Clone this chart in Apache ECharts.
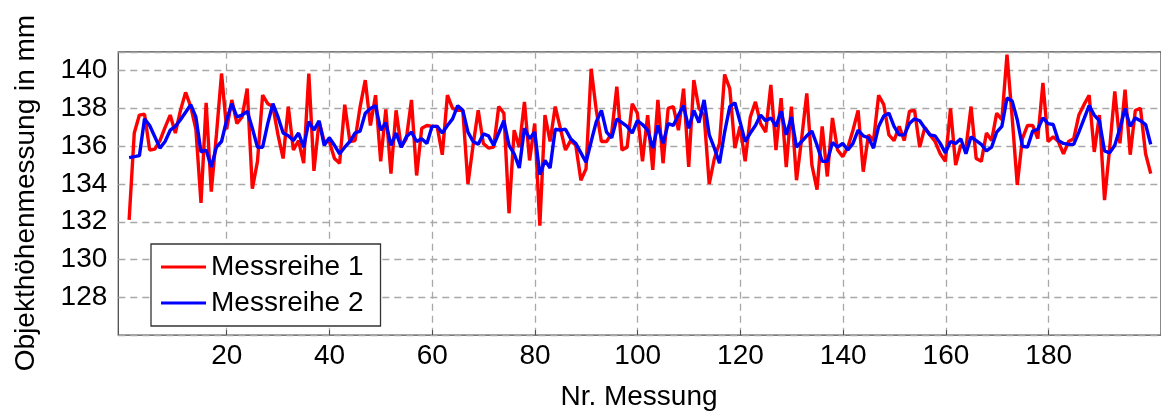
<!DOCTYPE html>
<html>
<head>
<meta charset="utf-8">
<title>Objekthöhenmessung</title>
<script src="https://cdn.jsdelivr.net/npm/echarts@6/dist/echarts.min.js"></script>
<style>
  html, body { margin: 0; padding: 0; background: #fff; }
  #chart { width: 1161px; height: 414px; }
</style>
</head>
<body>
<div id="chart"></div>
<script>
// Messreihe 1 (rot), Messung Nr. 1 … 200, Werte in mm
const messreihe1 = [
  132.1, 136.7, 137.65, 137.7, 135.8, 135.85, 136.3, 137.0, 137.65, 136.7,
  137.9, 138.85, 138.1, 136.9, 133.0, 138.3, 133.6, 136.6, 139.85, 136.9,
  138.45, 137.2, 137.55, 139.05, 133.75, 135.2, 138.7, 138.25, 138.1, 136.6,
  135.35, 138.1, 135.8, 136.3, 135.1, 139.85, 134.7, 137.3, 136.25, 136.25,
  135.35, 135.1, 138.2, 136.25, 136.3, 138.1, 139.5, 137.1, 138.7, 135.2,
  137.95, 134.55, 137.9, 135.95, 136.4, 138.45, 134.45, 136.95, 137.1, 137.05,
  137.05, 135.55, 138.7, 138.0, 137.9, 137.9, 134.0, 136.05, 137.9, 136.15,
  135.9, 135.95, 138.1, 137.75, 132.45, 136.85, 135.95, 138.35, 135.25, 137.2,
  131.8, 137.65, 136.25, 138.1, 136.95, 135.8, 136.3, 136.05, 134.2, 134.8,
  140.1, 137.9, 136.25, 136.25, 136.7, 139.15, 135.8, 135.95, 138.25, 137.75,
  135.2, 137.65, 134.75, 138.45, 135.1, 138.0, 138.1, 136.85, 139.05, 134.9,
  139.5, 138.0, 137.65, 134.0, 135.35, 136.15, 139.8, 139.05, 135.9, 137.05,
  135.2, 137.55, 138.35, 137.2, 136.75, 139.25, 135.8, 138.55, 134.9, 138.1,
  134.2, 136.4, 138.8, 135.0, 133.7, 137.05, 134.4, 137.5, 135.8, 135.45,
  135.95, 136.85, 137.9, 134.65, 136.6, 136.3, 138.7, 138.2, 136.6, 136.3,
  137.05, 136.3, 137.85, 137.9, 135.95, 137.0, 136.6, 136.25, 135.6, 135.2,
  138.0, 135.0, 136.05, 135.9, 138.1, 135.35, 135.2, 136.7, 136.3, 137.75,
  137.4, 140.85, 137.55, 133.95, 136.4, 137.1, 137.1, 136.4, 139.35, 136.25,
  136.5, 136.25, 135.6, 136.25, 136.4, 137.65, 138.2, 138.7, 135.7, 137.65,
  133.15, 135.9, 138.9, 136.15, 139.0, 135.55, 137.9, 138.0, 135.6, 134.55
];

// Messreihe 2 (blau), Messung Nr. 1 … 200, Werte in mm
const messreihe2 = [
  135.4, 135.45, 135.5, 137.45, 137.1, 136.5, 135.9, 136.25, 136.85, 137.05,
  137.4, 137.8, 138.2, 137.55, 135.7, 135.8, 134.9, 135.95, 136.25, 137.4,
  138.25, 137.55, 137.65, 137.85, 136.95, 135.95, 135.95, 137.2, 138.25, 137.55,
  136.7, 136.55, 136.3, 136.7, 135.95, 137.3, 136.85, 137.35, 136.05, 136.45,
  136.05, 135.6, 135.95, 136.25, 136.7, 136.8, 137.75, 138.0, 138.15, 136.85,
  137.25, 136.05, 136.7, 135.95, 136.5, 136.75, 136.25, 136.4, 136.15, 137.05,
  137.05, 136.7, 137.1, 137.45, 138.15, 137.9, 136.75, 136.25, 136.1, 136.65,
  136.55, 136.05, 136.7, 137.35, 136.05, 135.6, 134.85, 136.95, 136.4, 136.75,
  134.5, 135.25, 134.85, 136.9, 136.85, 136.9, 136.4, 136.15, 135.65, 135.15,
  136.25, 137.3, 137.9, 136.75, 136.45, 137.45, 137.25, 137.05, 136.7, 137.35,
  137.15, 136.85, 135.9, 137.1, 136.15, 137.2, 137.1, 137.65, 138.15, 136.95,
  137.9, 137.25, 138.45, 136.6, 135.9, 135.1, 136.75, 138.1, 138.3, 137.3,
  136.25, 136.7, 137.1, 137.65, 137.35, 137.5, 137.05, 137.85, 136.6, 137.55,
  135.95, 136.25, 136.55, 136.8, 136.05, 135.2, 135.2, 136.2, 135.95, 136.15,
  135.8, 136.15, 136.85, 136.55, 136.45, 135.9, 137.05, 137.6, 137.75, 137.05,
  136.6, 136.6, 137.2, 137.45, 137.35, 136.95, 136.6, 136.55, 136.15, 135.65,
  136.25, 136.15, 136.4, 135.6, 136.5, 136.3, 136.1, 135.75, 135.95, 136.75,
  137.05, 138.55, 138.4, 137.4, 136.0, 135.95, 136.8, 136.9, 137.5, 137.2,
  137.15, 136.3, 136.15, 136.1, 136.1, 136.75, 137.45, 138.15, 137.65, 137.35,
  135.75, 135.65, 136.05, 136.95, 138.0, 137.05, 137.5, 137.35, 137.15, 136.1
];

const seriesNames = ['Messreihe 1', 'Messreihe 2'];
const xTitle = 'Nr. Messung';
const yTitle = 'Objekthöhenmessung in mm';
const yTickLabels = [128, 130, 132, 134, 136, 138, 140];

const FONT = '"Liberation Sans", Helvetica, Arial, sans-serif';
const GRID_COLOR = '#a8a8a8';
const FRAME_COLOR = '#4d4d4d';

// pair each value with its measurement number (1-based)
const toPoints = arr => arr.map((v, i) => [i + 1, v]);

const chart = echarts.init(document.getElementById('chart'), null, { renderer: 'canvas' });

chart.setOption({
  animation: false,
  backgroundColor: '#fff',
  textStyle: { fontFamily: FONT },
  grid: [
    // plot frame holding the data
    { left: 118.3, top: 51.8, width: 1043.5, height: 283.3,
      show: true, borderColor: FRAME_COLOR, borderWidth: 1.3, backgroundColor: 'transparent',
      containLabel: false },
    // helper grid carrying the x ticks 20 … 180
    { left: 226.7, top: 51.8, width: 822, height: 283.3, containLabel: false }
  ],
  xAxis: [
    { gridIndex: 0, type: 'value', min: -1.11, max: 202, show: false },
    { gridIndex: 1, type: 'value', min: 20, max: 180, interval: 20,
      axisLine: { show: false },
      axisTick: { show: true, inside: true, length: 5, lineStyle: { color: FRAME_COLOR, width: 1 } },
      axisLabel: { fontSize: 28, color: '#000', fontFamily: FONT, margin: 7 },
      splitLine: { show: true, lineStyle: { color: GRID_COLOR, width: 1.3, type: [7, 5] } } }
  ],
  yAxis: [
    { gridIndex: 0, type: 'value', min: 126, max: 141, interval: 2,
      axisLine: { show: false },
      axisTick: { show: false },
      axisLabel: { fontSize: 28, color: '#000', fontFamily: FONT, margin: 11,
        formatter: v => (yTickLabels.indexOf(v) >= 0 ? String(v) : '') },
      splitLine: { show: true, lineStyle: { color: GRID_COLOR, width: 1.3, type: [7, 5] } } },
    { gridIndex: 1, type: 'value', min: 0, max: 1, show: false }
  ],
  legend: {
    orient: 'vertical',
    left: 151, top: 244,
    padding: [9, 17, 9, 10],
    itemGap: 8,
    itemWidth: 45, itemHeight: 3,
    icon: 'rect',
    backgroundColor: '#fff',
    borderColor: '#333',
    borderWidth: 1.3,
    borderRadius: 0,
    selectedMode: false,
    textStyle: { fontSize: 28, color: '#000', fontFamily: FONT, lineHeight: 28 },
    data: seriesNames
  },
  series: [
    { name: seriesNames[0], type: 'line', xAxisIndex: 0, yAxisIndex: 0,
      data: toPoints(messreihe1), showSymbol: false, symbol: 'none',
      lineStyle: { color: '#ff0000', width: 3.4 }, itemStyle: { color: '#ff0000' },
      z: 3 },
    { name: seriesNames[1], type: 'line', xAxisIndex: 0, yAxisIndex: 0,
      data: toPoints(messreihe2), showSymbol: false, symbol: 'none',
      lineStyle: { color: '#0000ff', width: 3.4 }, itemStyle: { color: '#0000ff' },
      z: 4 }
  ],
  graphic: [
    { type: 'text', x: 639, y: 397,
      style: { text: xTitle, font: '28px ' + FONT, fill: '#000', align: 'center', verticalAlign: 'middle' } },
    { type: 'text', x: 26, y: 193, rotation: Math.PI / 2,
      style: { text: yTitle, font: '28px ' + FONT, fill: '#000', align: 'center', verticalAlign: 'middle' } }
  ]
});
</script>
</body>
</html>
